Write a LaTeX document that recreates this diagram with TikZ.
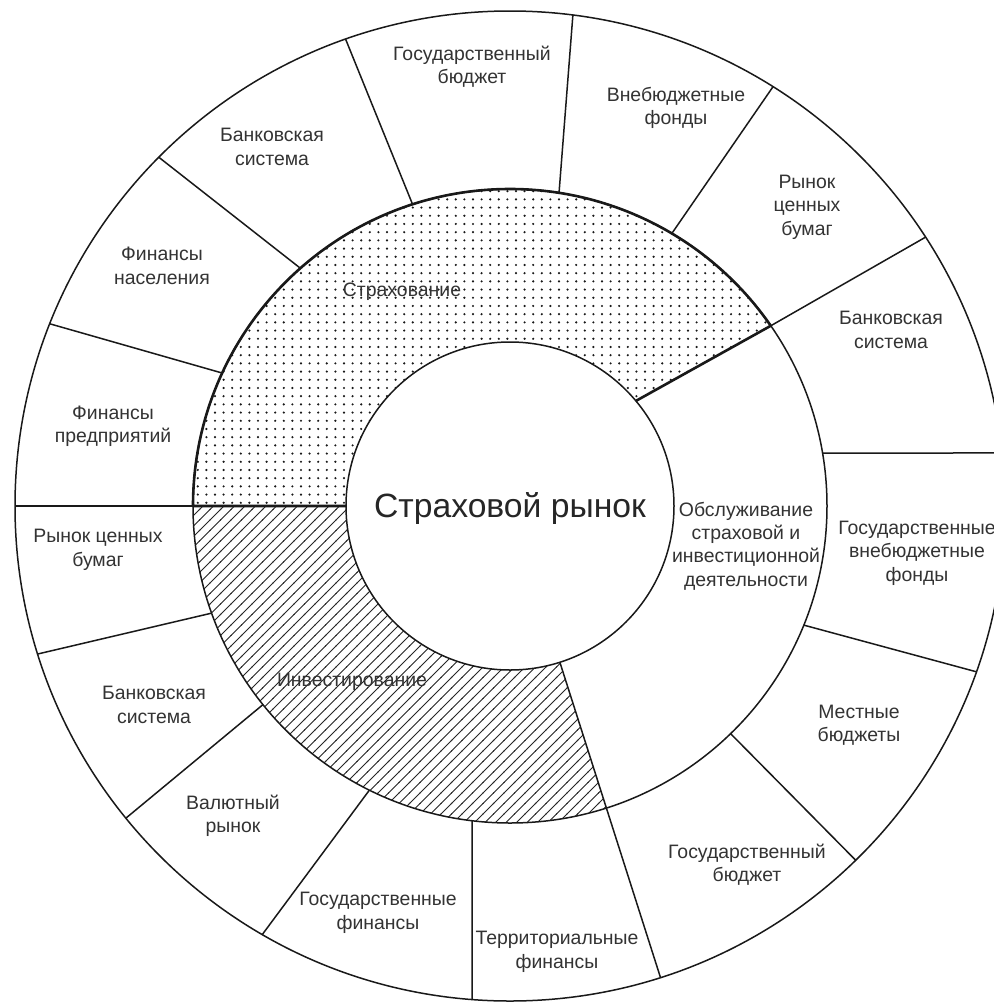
\documentclass[tikz,border=0pt]{standalone}
\usepackage{fontspec}
\setmainfont{Liberation Sans}
\usetikzlibrary{patterns}
\pgfdeclarepatternformonly{bigdots}{\pgfqpoint{-1.5bp}{-1.5bp}}{\pgfqpoint{1.5bp}{1.5bp}}{\pgfqpoint{8.6bp}{8.2bp}}{\pgfpathcircle{\pgfqpoint{0bp}{0bp}}{1.2bp}\pgfusepath{fill}}
\pgfdeclarepatternformonly{hatchne}{\pgfqpoint{-1bp}{-1bp}}{\pgfqpoint{11.5bp}{11.5bp}}{\pgfqpoint{10.5bp}{10.5bp}}{\pgfsetlinewidth{0.8bp}\pgfpathmoveto{\pgfqpoint{-0.5bp}{-0.5bp}}\pgfpathlineto{\pgfqpoint{11bp}{11bp}}\pgfusepath{stroke}}
\begin{document}
\begin{tikzpicture}[x=1bp,y=1bp, line join=round,
  ln/.style={line width=1.5bp, draw=black!90},
  thk/.style={line width=2.6bp, draw=black!90},
  lbl/.style={font=\fontsize{19.5}{23.5}\selectfont, text=black!80, align=center, inner sep=0pt},
  big/.style={font=\fontsize{33.8}{38}\selectfont, text=black!85, inner sep=0pt}]
\useasboundingbox (0,0) rectangle (994,-1003);
\clip (0,0) rectangle (994,-1003);
\fill[white] (0,0) rectangle (994,-1003);
\begin{scope}[shift={(510,-506)}]
  % filled sectors of the middle ring
  \fill[pattern=bigdots, pattern color=black!90]
    (180:317) arc[start angle=180, end angle=34.65, radius=317]
    -- (39.85:164) arc[start angle=39.85, end angle=180, radius=164] -- cycle;
  \fill[pattern=hatchne, pattern color=black!85]
    (180:317) arc[start angle=180, end angle=287.7, radius=317]
    -- (287.7:164) arc[start angle=287.7, end angle=180, radius=164] -- cycle;
  % circles
  \draw[ln] (0,0) circle[radius=495];
  \draw[ln] (0,0) circle[radius=317];
  \draw[ln] (0,0) circle[radius=164];
  % outline of the insurance sector
  \draw[thk] (180:164) -- (180:317) arc[start angle=180, end angle=34.65, radius=317] -- (39.85:164);
  % dividers of the outer ring
  \draw[ln] (180:317) -- (180:495);
  \draw[ln] (155.2:317) -- (158.4:495);
  \draw[ln] (131.4:317) -- (135.2:495);
  \draw[ln] (107.9:317) -- (109.4:495);
  \draw[ln] (81.1:317) -- (82.7:495);
  \draw[ln] (59.3:317) -- (57.9:495);
  \draw[ln] (34.65:317) -- (32.9:495);
  \draw[ln] (9.62:317) -- (6.15:495);
  \draw[ln] (-22.07:317) -- (-19.57:495);
  \draw[ln] (-45.9:317) -- (-45.7:495);
  \draw[ln] (287.7:164) -- (287.7:495);
  \draw[ln] (263.12:317) -- (265.6:495);
  \draw[ln] (243.67:317) -- (239.97:495);
  \draw[ln] (218.8:317) -- (219.1:495);
  \draw[ln] (199.75:317) -- (197.4:495);
\end{scope}
% labels
\node[big] (market) at (510,-508) {Страховой рынок};
\node[lbl] (strah) at (402,-292) {Страхование};
\node[lbl] (invest) at (352,-682) {Инвестирование};
\node[lbl] (obsl) at (746,-546) {Обслуживание\\страховой и\\инвестиционной\\деятельности};
\node[lbl] (gbtop) at (472,-66.5) {Государственный\\бюджет};
\node[lbl] (vf) at (676,-108) {Внебюджетные\\фонды};
\node[lbl] (rcbr) at (807,-207) {Рынок\\ценных\\бумаг};
\node[lbl] (bsr) at (891,-330) {Банковская\\система};
\node[lbl] (gvf) at (917,-553) {Государственные\\внебюджетные\\фонды};
\node[lbl] (mb) at (859,-725) {Местные\\бюджеты};
\node[lbl] (gbbot) at (747,-865) {Государственный\\бюджет};
\node[lbl] (tf) at (557,-952) {Территориальные\\финансы};
\node[lbl] (gf) at (378,-913) {Государственные\\финансы};
\node[lbl] (vr) at (233,-816) {Валютный\\рынок};
\node[lbl] (bsbl) at (154,-705) {Банковская\\система};
\node[lbl] (rcbl) at (98,-550) {Рынок ценных\\бумаг};
\node[lbl] (fp) at (113,-426) {Финансы\\предприятий};
\node[lbl] (fn) at (162,-266) {Финансы\\населения};
\node[lbl] (bstl) at (272,-147) {Банковская\\система};
\end{tikzpicture}
\end{document}
